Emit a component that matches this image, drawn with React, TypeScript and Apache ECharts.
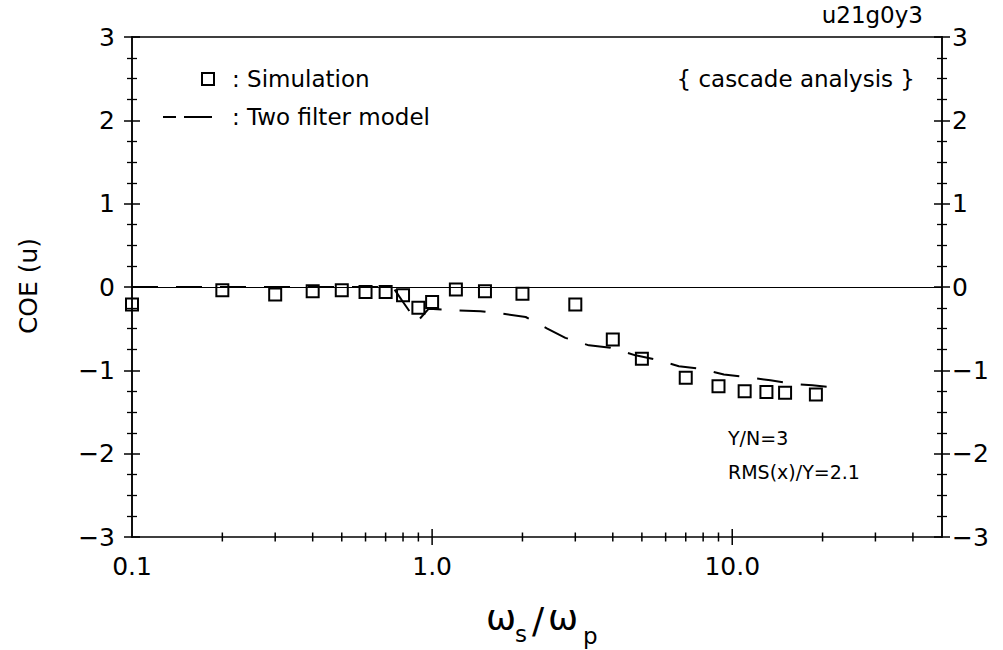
import React, { useEffect, useRef } from "react";
import * as echarts from "echarts";

const FONT = '"DejaVu Sans", sans-serif';

// Simulation (squares)
const simX = [0.1, 0.2, 0.3, 0.4, 0.5, 0.6, 0.7, 0.8, 0.9, 1.0, 1.2, 1.5, 2.0, 3.0, 4.0, 5.0, 7.0, 9.0, 11, 13, 15, 19];
const simY = [-0.21, -0.04, -0.09, -0.05, -0.04, -0.06, -0.06, -0.1, -0.25, -0.18, -0.03, -0.05, -0.08, -0.21, -0.63, -0.86, -1.09, -1.19, -1.25, -1.26, -1.27, -1.29];

// Two filter model (dashed line)
const modelX = [0.1, 0.3, 0.5, 0.74, 0.8, 0.89, 0.975, 1.2, 1.45, 1.71, 2.05, 2.42, 2.78, 3.33, 3.93, 4.76, 5.55, 6.64, 7.84, 9.38, 11.1, 13.4, 15.8, 18.5, 22.7];
const modelY = [0, 0, 0, 0, -0.18, -0.42, -0.26, -0.28, -0.29, -0.32, -0.36, -0.5, -0.61, -0.7, -0.73, -0.82, -0.87, -0.95, -0.98, -1.05, -1.08, -1.12, -1.16, -1.18, -1.21];

// Axis ticks / labels
const xTickLabelValues = [0.1, 1, 10];
const xTickLabels = ["0.1", "1.0", "10.0"];
const xMajorTicks = [1, 10];
const xMinorTicks = [0.2, 0.3, 0.4, 0.5, 0.6, 0.7, 0.8, 0.9, 2, 3, 4, 5, 6, 7, 8, 9, 20, 30, 40];
const yMin = -3;
const yMax = 3;

function yLabel(v: number): string {
  if (v < 0) return "\u2212" + Math.abs(v);
  return String(v);
}

function xLabel(v: number): string {
  for (let i = 0; i < xTickLabelValues.length; i++) {
    if (Math.abs(Math.log10(v) - Math.log10(xTickLabelValues[i])) < 1e-6) return xTickLabels[i];
  }
  return "";
}

function makeYAxis(position: "left" | "right", withLabels: boolean, inside: boolean, margin: number) {
  return {
    type: "value",
    position,
    min: yMin,
    max: yMax,
    interval: 1,
    axisLine: { show: true, onZero: false, lineStyle: { color: "#000", width: 1.5 } },
    axisTick: { show: true, inside, length: 8, lineStyle: { color: "#000", width: 1.5 } },
    minorTick: { show: true, splitNumber: 4, length: 5, lineStyle: { color: "#000", width: 1.3 } },
    splitLine: { show: false },
    minorSplitLine: { show: false },
    axisLabel: {
      show: withLabels,
      formatter: yLabel,
      color: "#000",
      fontSize: 25,
      fontFamily: FONT,
      margin,
    },
  };
}

export default function App() {
  const ref = useRef<HTMLDivElement>(null);

  useEffect(() => {
    if (!ref.current) return;
    const chart = echarts.init(ref.current, undefined, { renderer: "svg" });

    const textStyle = (size: number) => ({ fontSize: size, fontFamily: FONT, fill: "#000" });

    const option: any = {
      animation: false,
      backgroundColor: "#fff",
      grid: { left: 132, right: 61, top: 37, bottom: 113, containLabel: false, outerBoundsMode: "none" },
      xAxis: [
        {
          type: "log",
          logBase: 10,
          min: 0.1,
          max: 50,
          position: "bottom",
          axisLine: { show: true, onZero: false, lineStyle: { color: "#000", width: 1.5 } },
          axisTick: { show: false },
          splitLine: { show: false },
          axisLabel: {
            formatter: xLabel,
            color: "#000",
            fontSize: 25,
            fontFamily: FONT,
            margin: 17,
            showMaxLabel: false,
          },
        },
        {
          type: "value",
          position: "top",
          min: 0,
          max: 1,
          axisLine: { show: true, onZero: false, lineStyle: { color: "#000", width: 1.5 } },
          axisTick: { show: false },
          axisLabel: { show: false },
          splitLine: { show: false },
        },
      ],
      yAxis: [
        makeYAxis("left", true, false, 17),
        makeYAxis("left", false, true, 17),
        makeYAxis("right", true, false, 10),
        makeYAxis("right", false, true, 10),
      ],
      series: [
        {
          name: "Two filter model",
          type: "line",
          xAxisIndex: 0,
          yAxisIndex: 0,
          data: modelX.map((x, i) => [x, modelY[i]]),
          showSymbol: false,
          symbol: "none",
          lineStyle: { color: "#000", width: 2, type: [26, 18] },
          z: 3,
          markLine: {
            silent: true,
            symbol: ["none", "none"],
            label: { show: false },
            lineStyle: { color: "#000", width: 1.2, type: "solid" },
            data: [{ yAxis: 0 }],
          },
        },
        {
          name: "Simulation",
          type: "scatter",
          xAxisIndex: 0,
          yAxisIndex: 0,
          data: simX.map((x, i) => [x, simY[i]]),
          symbol: "rect",
          symbolSize: 12,
          itemStyle: { color: "rgba(255,255,255,0)", borderColor: "#000", borderWidth: 2, opacity: 1 },
          z: 5,
        },
        {
          name: "xMinorTicks",
          type: "scatter",
          xAxisIndex: 0,
          yAxisIndex: 0,
          data: xMinorTicks.map((x) => [x, yMin]),
          symbol: "rect",
          symbolSize: [1.5, 9],
          itemStyle: { color: "#000", opacity: 1 },
          clip: false,
          silent: true,
          z: 4,
        },
        {
          name: "xMajorTicks",
          type: "scatter",
          xAxisIndex: 0,
          yAxisIndex: 0,
          data: xMajorTicks.map((x) => [x, yMin]),
          symbol: "rect",
          symbolSize: [1.5, 16],
          itemStyle: { color: "#000", opacity: 1 },
          clip: false,
          silent: true,
          z: 4,
        },
      ],
      graphic: [
        { type: "rect", shape: { x: 202, y: 73, width: 12, height: 12 }, style: { fill: "none", stroke: "#000", lineWidth: 2 } },
        { type: "text", x: 232, y: 79, style: { ...textStyle(23), text: ": Simulation", align: "left", verticalAlign: "middle" } },
        { type: "line", shape: { x1: 163, y1: 117, x2: 176, y2: 117 }, style: { stroke: "#000", lineWidth: 2 } },
        { type: "line", shape: { x1: 184, y1: 117, x2: 212, y2: 117 }, style: { stroke: "#000", lineWidth: 2 } },
        { type: "text", x: 232, y: 117, style: { ...textStyle(23), text: ": Two filter model", align: "left", verticalAlign: "middle" } },
        { type: "text", x: 915, y: 79, style: { ...textStyle(23), text: "{ cascade analysis }", align: "right", verticalAlign: "middle" } },
        { type: "text", x: 923, y: 15, style: { ...textStyle(23), text: "u21g0y3", align: "right", verticalAlign: "middle" } },
        { type: "text", x: 728, y: 438, style: { ...textStyle(19), text: "Y/N=3", align: "left", verticalAlign: "middle" } },
        { type: "text", x: 728, y: 472, style: { ...textStyle(19), text: "RMS(x)/Y=2.1", align: "left", verticalAlign: "middle" } },
        { type: "text", x: 28, y: 286, rotation: Math.PI / 2, style: { ...textStyle(25), text: "COE (u)", align: "center", verticalAlign: "middle" } },
        { type: "text", x: 486, y: 617, style: { ...textStyle(36), text: "\u03c9", align: "left", verticalAlign: "middle" } },
        { type: "text", x: 515, y: 634, style: { ...textStyle(23), text: "s", align: "left", verticalAlign: "middle" } },
        { type: "text", x: 532, y: 620, style: { ...textStyle(36), text: "/", align: "left", verticalAlign: "middle" } },
        { type: "text", x: 548, y: 617, style: { ...textStyle(36), text: "\u03c9", align: "left", verticalAlign: "middle" } },
        { type: "text", x: 583, y: 636, style: { ...textStyle(23), text: "p", align: "left", verticalAlign: "middle" } },
      ],
    };

    chart.setOption(option);
    return () => chart.dispose();
  }, []);

  return (
    <div
      ref={ref}
      style={{ position: "fixed", left: 0, top: 0, width: 1003, height: 650, background: "#fff" }}
    />
  );
}
